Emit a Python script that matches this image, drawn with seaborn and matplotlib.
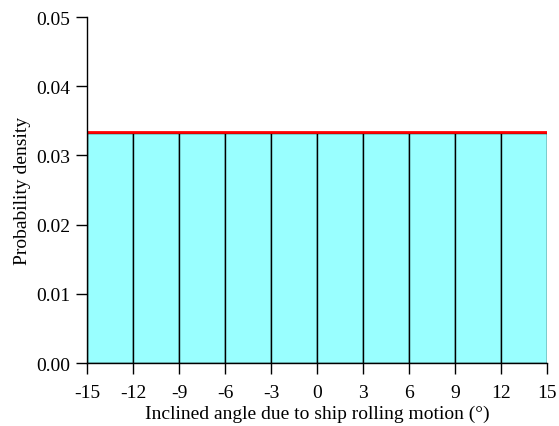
import numpy as np
import pandas as pd
import matplotlib
matplotlib.use("Agg")
import matplotlib.pyplot as plt
import seaborn as sns

# Uniform distribution of roll-induced inclination angle
bin_edges = [-15, -12, -9, -6, -3, 0, 3, 6, 9, 12, 15]
bin_density = [0.0333, 0.0333, 0.0333, 0.0333, 0.0333, 0.0333, 0.0333, 0.0333, 0.0333, 0.0333]
pdf_x = [-15, 15]
pdf_y = [1 / 30, 1 / 30]
x_ticks = [-15, -12, -9, -6, -3, 0, 3, 6, 9, 12, 15]
y_ticks = [0.00, 0.01, 0.02, 0.03, 0.04, 0.05]

sns.set_style("ticks")
plt.rcParams["font.family"] = ["Liberation Serif", "DejaVu Serif"]
plt.rcParams["font.size"] = 14
plt.rcParams["text.color"] = "black"
plt.rcParams["axes.labelcolor"] = "black"

centers = [(a + b) / 2 for a, b in zip(bin_edges[:-1], bin_edges[1:])]
df = pd.DataFrame({"angle": centers, "density": bin_density})

fig = plt.figure(figsize=(5.59, 4.27), dpi=100)
ax = fig.add_axes([0.1556, 0.1475, 0.8229, 0.8103])

sns.histplot(data=df, x="angle", weights="density", bins=bin_edges, stat="count",
             color="#99ffff", alpha=1.0, edgecolor="black", linewidth=1.0, ax=ax)
sns.lineplot(x=pdf_x, y=pdf_y, color="#ff0000", linewidth=2.0, ax=ax)

ax.set_xlim(-15, 15)
ax.set_ylim(0, 0.05)
ax.set_xticks(x_ticks)
ax.set_xticklabels([str(t) for t in x_ticks])
ax.set_yticks(y_ticks)
ax.set_yticklabels([f"{t:.2f}" for t in y_ticks])
ax.tick_params(direction="out", length=8, width=1, colors="black", labelsize=14)
ax.tick_params(axis="x", pad=7)
ax.tick_params(axis="y", pad=4)
for s in ["top", "right"]:
    ax.spines[s].set_visible(False)
for s in ["left", "bottom"]:
    ax.spines[s].set_color("black")
    ax.spines[s].set_linewidth(1)
ax.set_xlabel("Inclined angle due to ship rolling motion (°)", fontsize=14, labelpad=3)
ax.set_ylabel("Probability density", fontsize=14, labelpad=4)

fig.savefig("out.png", dpi=100)
